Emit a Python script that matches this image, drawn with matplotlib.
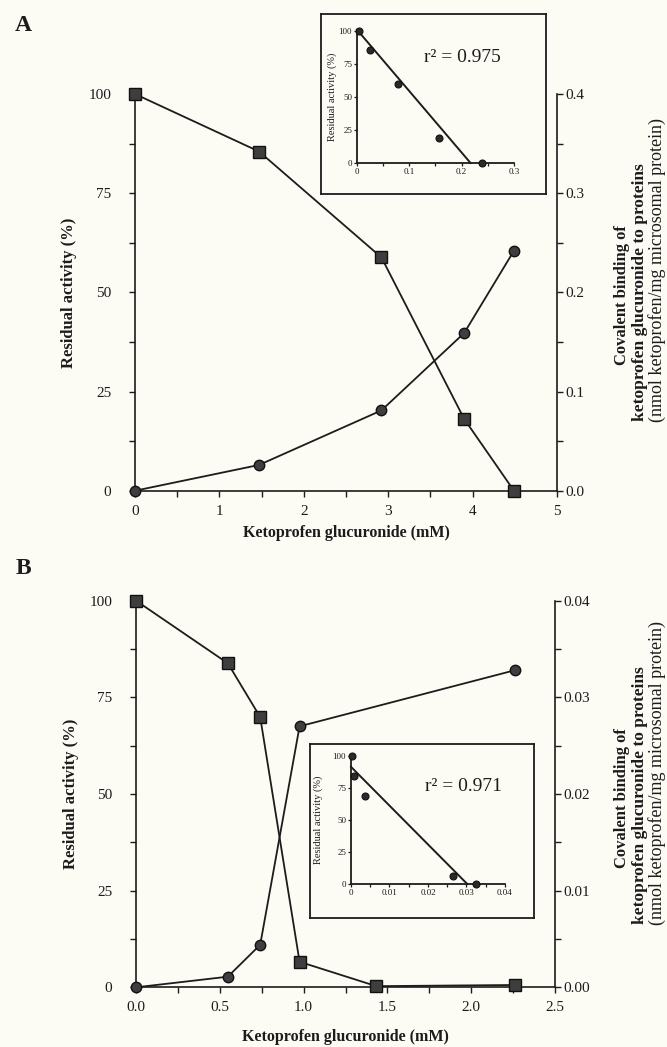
import matplotlib
matplotlib.use("Agg")
import matplotlib.pyplot as plt
from matplotlib.ticker import MultipleLocator, FormatStrFormatter

plt.rcParams['font.family'] = ['Liberation Serif', 'DejaVu Serif']
plt.rcParams['text.color'] = '#1c1c1c'
plt.rcParams['axes.labelcolor'] = '#1c1c1c'
plt.rcParams['xtick.color'] = '#1c1c1c'
plt.rcParams['ytick.color'] = '#1c1c1c'
plt.rcParams['axes.edgecolor'] = '#1c1c1c'

BG = '#fcfbf4'
INK = '#1c1c1c'
FILL = '#3e3e3e'

# A: microsomes incubated with increasing ketoprofen glucuronide
conc_a = [0, 1.47, 2.92, 3.90, 4.49]
activity_a = [100, 85.5, 58.8, 18.1, 0]
binding_a = [0, 0.026, 0.081, 0.159, 0.242]

# A inset: residual activity against adduct level
adducts_a = [0.004, 0.025, 0.078, 0.157, 0.238]
inset_activity_a = [100, 85.4, 59.6, 18.9, 0]
fit_a = (101.0, 0.217)   # intercept, x-intercept
r2_a = 0.975

# B
conc_b_act = [0, 0.548, 0.741, 0.976, 1.434, 2.26]
activity_b = [100, 83.8, 69.9, 6.6, 0.3, 0.6]
conc_b_bind = [0, 0.548, 0.741, 0.976, 2.26]
binding_b = [0, 0.0011, 0.0044, 0.0270, 0.0328]

adducts_b = [0.0002, 0.0009, 0.0037, 0.0266, 0.0324]
inset_activity_b = [100, 84, 69, 6, 0]
fit_b = (91.5, 0.0302)
r2_b = 0.971

xlabel = 'Ketoprofen glucuronide (mM)'
ylabel = 'Residual activity (%)'
right_lines = ['Covalent binding of',
               'ketoprofen glucuronide to proteins',
               '(nmol ketoprofen/mg microsomal protein)']
inset_xlabel = 'Adducts (nmol ketoprofen/mg protein)'

fig = plt.figure(figsize=(6.67, 10.47), dpi=100, facecolor=BG)


def main_panel(rect, xc_act, act, xc_bind, bind, xmax, xmaj, xmin, ymax2,
               xfmt, y2fmt, letter, letter_y, ycen, xlab_y):
    ax = fig.add_axes(rect)
    ax.set_facecolor('none')
    ax.set_xlim(0, xmax)
    ax.set_ylim(0, 100)
    ax.spines['top'].set_visible(False)
    ax.spines['right'].set_visible(False)
    for s in ['left', 'bottom']:
        ax.spines[s].set_linewidth(1.2)
    ax.xaxis.set_major_locator(MultipleLocator(xmaj))
    ax.xaxis.set_minor_locator(MultipleLocator(xmin))
    ax.xaxis.set_major_formatter(FormatStrFormatter(xfmt))
    ax.yaxis.set_major_locator(MultipleLocator(25))
    ax.yaxis.set_minor_locator(MultipleLocator(12.5))
    ax.tick_params(axis='x', which='both', direction='out', length=4,
                   width=1, labelsize=11, pad=6)
    ax.tick_params(axis='y', which='both', direction='out', length=4,
                   width=1, labelsize=11, pad=13)

    ax2 = ax.twinx()
    ax2.set_ylim(0, ymax2)
    ax2.spines['top'].set_visible(False)
    ax2.spines['left'].set_visible(False)
    ax2.spines['bottom'].set_visible(False)
    ax2.spines['right'].set_linewidth(1.2)
    ax2.yaxis.set_major_locator(MultipleLocator(ymax2 / 4))
    ax2.yaxis.set_minor_locator(MultipleLocator(ymax2 / 8))
    ax2.yaxis.set_major_formatter(FormatStrFormatter(y2fmt))
    ax2.tick_params(axis='y', which='both', direction='out', length=4,
                    width=1, labelsize=11, pad=2)

    ax.plot(xc_act, act, color=INK, lw=1.3, marker='s', ms=9,
            mfc=FILL, mec='#111111', mew=1, clip_on=False, zorder=3)
    ax2.plot(xc_bind, bind, color=INK, lw=1.3, marker='o', ms=7.5,
             mfc=FILL, mec='#111111', mew=1, clip_on=False, zorder=3)

    ax.set_ylabel(ylabel, fontsize=12, fontweight='bold')
    ax.yaxis.set_label_coords(-0.137, 0.5)
    x0, y0, w, h = rect
    fig.text(x0 + w / 2, xlab_y, xlabel, ha='center', va='center',
             fontsize=11.5, fontweight='bold')
    fig.text(0.035, letter_y, letter, ha='center', va='center',
             fontsize=17, fontweight='bold')
    # three-line label for the right-hand axis
    specs = [(0.932, 0.000, 12, 'bold'),
             (0.960, 0.003, 12.5, 'bold'),
             (0.985, 0.024, 13, 'normal')]
    for (xf, dy, size, wt), line in zip(specs, right_lines):
        fig.text(xf, ycen + dy, line, rotation=90, ha='center', va='center',
                 fontsize=size, fontweight=wt)
    return ax


def inset(frame, rect, xs, ys, fit, r2, xmax, xmaj, xmin, xfmt, r2_pos,
          xlab_pos, ylab_x):
    box = fig.add_axes(frame, zorder=4)
    box.set_facecolor(BG)
    box.set_xticks([])
    box.set_yticks([])
    for s in box.spines.values():
        s.set_linewidth(1.3)

    ai = fig.add_axes(rect, zorder=5)
    ai.set_facecolor('none')
    ai.set_xlim(0, xmax)
    ai.set_ylim(0, 100)
    ai.spines['top'].set_visible(False)
    ai.spines['right'].set_visible(False)
    for s in ['left', 'bottom']:
        ai.spines[s].set_linewidth(1.3)
    ai.xaxis.set_major_locator(MultipleLocator(xmaj))
    ai.xaxis.set_minor_locator(MultipleLocator(xmin))
    ai.xaxis.set_major_formatter(
        lambda v, p: '0' if v == 0 else (xfmt % v))
    ai.yaxis.set_major_locator(MultipleLocator(25))
    ai.tick_params(which='both', direction='out', length=2.5, width=0.9,
                   labelsize=6.5, pad=1)

    b0, xint = fit
    ai.plot([0, xint], [b0, 0], color=INK, lw=1.4, clip_on=False)
    ai.plot(xs, ys, 'o', ms=5, mfc='#2a2a2a', mec='#111111', mew=0.8,
            clip_on=False, zorder=4)
    ai.text(r2_pos[0], r2_pos[1], 'r\u00b2 = %.3f' % r2,
            transform=ai.transAxes, ha='center', va='center', fontsize=14)
    ai.set_ylabel(ylabel, fontsize=7.5)
    ai.yaxis.set_label_coords(ylab_x, 0.5)
    fig.text(xlab_pos[0], xlab_pos[1], inset_xlabel, ha='center',
             va='center', fontsize=8.5, fontweight='bold')


main_panel([0.2024, 0.5313, 0.6327, 0.3789], conc_a, activity_a,
           conc_a, binding_a, 5, 1, 0.5, 0.4, '%d', '%.1f',
           'A', 0.976, 0.718, 0.491)
main_panel([0.2039, 0.0570, 0.6282, 0.3693], conc_b_act, activity_b,
           conc_b_bind, binding_b, 2.5, 0.5, 0.25, 0.04, '%.1f', '%.2f',
           'B', 0.457, 0.238, 0.0096)

inset([0.4813, 0.8147, 0.3373, 0.1719], [0.5352, 0.8443, 0.2354, 0.1261],
      adducts_a, inset_activity_a, fit_a, r2_a, 0.3, 0.1, 0.05, '%.1f',
      (0.67, 0.80), (0.648, 0.8233), -0.13)
inset([0.4648, 0.1232, 0.3358, 0.1662], [0.5262, 0.1557, 0.2309, 0.1223],
      adducts_b, inset_activity_b, fit_b, r2_b, 0.04, 0.01, 0.005, '%.2f',
      (0.73, 0.76), (0.640, 0.1328), -0.18)

fig.savefig('out.png', dpi=100, facecolor=BG)
